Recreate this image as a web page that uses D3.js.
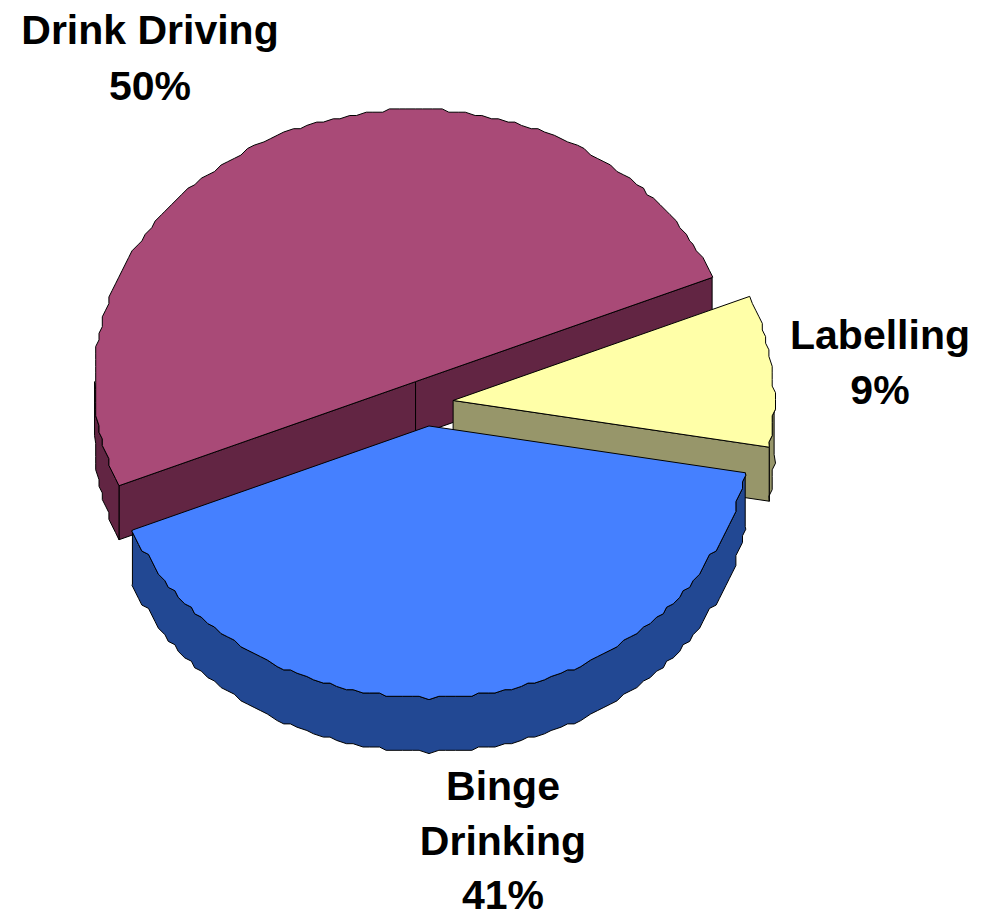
<!DOCTYPE html>
<html>
<head>
<meta charset="utf-8">
<script src="https://cdn.jsdelivr.net/npm/d3@7/dist/d3.min.js"></script>
<style>
  html, body { margin: 0; padding: 0; background: #ffffff; }
  svg { display: block; }
</style>
</head>
<body>
<svg id="chart" width="982" height="918"></svg>
<script>
// Share of responses by topic
const categories = ["Drink Driving", "Labelling", "Binge Drinking"];
const shares = [50, 9, 41];
const labelLines = [["Drink Driving", "50%"], ["Labelling", "9%"], ["Binge", "Drinking", "41%"]];
const topColors = ["#A94A77", "#FFFFA8", "#4580FF"];
const sideColors = ["#622543", "#97966A", "#224893"];

// Layout of the tilted 3D pie
const cx = 426, cy = 403;      // pie centre before explosion
const rx = 321, ry = 272;      // projected ellipse radii
const depth = 54;              // thickness of the pie
const explode = 0.085;         // explosion, as a fraction of radius
const grid = 3.3;              // vertex snapping grid for the rim polygon
const facet = 1.5 * Math.PI / 180; // angular spacing of rim vertices
const rotation = (67.5 - 180) * Math.PI / 180;

const svg = d3.select("#chart");

const pie = d3.pie()
  .sort(null)
  .value(d => d)
  .startAngle(rotation)
  .endAngle(rotation + 2 * Math.PI);
const arcs = pie(shares);

const xs = d3.scaleLinear().domain([-1, 1]).range([-rx, rx]);
const ys = d3.scaleLinear().domain([-1, 1]).range([-ry, ry]);
const line = d3.line().curve(d3.curveLinearClosed);

function sliceCentre(a) {
  const mid = (a.startAngle + a.endAngle) / 2;
  return [cx + xs(explode * Math.sin(mid)), cy + ys(-explode * Math.cos(mid))];
}

function rimPoint(c, t, dy = 0) {
  return [c[0] + xs(Math.sin(t)), c[1] + ys(-Math.cos(t)) + dy];
}

// Rim as a faceted polygon whose vertices snap to a coarse grid
function rim(c, t0, t1, dy = 0) {
  const pts = [rimPoint(c, t0, dy)];
  const kStart = Math.floor(t0 / facet) + 1;
  const kEnd = Math.ceil(t1 / facet) - 1;
  for (let k = kStart; k <= kEnd; k++) {
    const p = rimPoint(c, k * facet);
    const q = [Math.round(p[0] / grid) * grid, Math.round(p[1] / grid) * grid + dy];
    const last = pts[pts.length - 1];
    if (Math.abs(q[0] - last[0]) > 0.01 || Math.abs(q[1] - last[1]) > 0.01) pts.push(q);
  }
  pts.push(rimPoint(c, t1, dy));
  return pts;
}

const g = svg.append("g");

function face(pts, fill) {
  g.append("path")
    .attr("d", line(pts))
    .attr("fill", fill)
    .attr("stroke", "#000")
    .attr("stroke-width", 1)
    .attr("stroke-linejoin", "round");
}

// Draw slices back to front
arcs.forEach((a, i) => {
  const c = sliceCentre(a);
  const t0 = a.startAngle, t1 = a.endAngle;
  const side = sideColors[i];

  // cut faces that point toward the viewer
  if (Math.sin(t0) < 0) {
    const p = rimPoint(c, t0);
    face([c, p, [p[0], p[1] + depth], [c[0], c[1] + depth]], side);
  }
  if (Math.sin(t1) > 0) {
    const p = rimPoint(c, t1);
    face([c, p, [p[0], p[1] + depth], [c[0], c[1] + depth]], side);
  }

  // outer wall on the front half of the rim
  for (let k = -1; k <= 1; k++) {
    const lo = Math.max(t0, Math.PI / 2 + 2 * Math.PI * k);
    const hi = Math.min(t1, 3 * Math.PI / 2 + 2 * Math.PI * k);
    if (hi > lo) {
      const topEdge = rim(c, lo, hi);
      const bottomEdge = rim(c, lo, hi, depth).reverse();
      face(topEdge.concat(bottomEdge), side);
    }
  }

  // top face
  face([c].concat(rim(c, t0, t1)), topColors[i]);
});

// Category labels
const labelPos = [
  { x: 150, y: [44, 100] },
  { x: 880, y: [349, 404] },
  { x: 503, y: [800, 855, 909] }
];

labelLines.forEach((lines, i) => {
  const t = svg.append("text")
    .attr("text-anchor", "middle")
    .attr("font-family", "'Liberation Sans', Arial, Helvetica, sans-serif")
    .attr("font-weight", "bold")
    .attr("font-size", 41)
    .attr("fill", "#000");
  lines.forEach((s, j) => {
    t.append("tspan")
      .attr("x", labelPos[i].x)
      .attr("y", labelPos[i].y[j])
      .text(s);
  });
});
</script>
</body>
</html>
